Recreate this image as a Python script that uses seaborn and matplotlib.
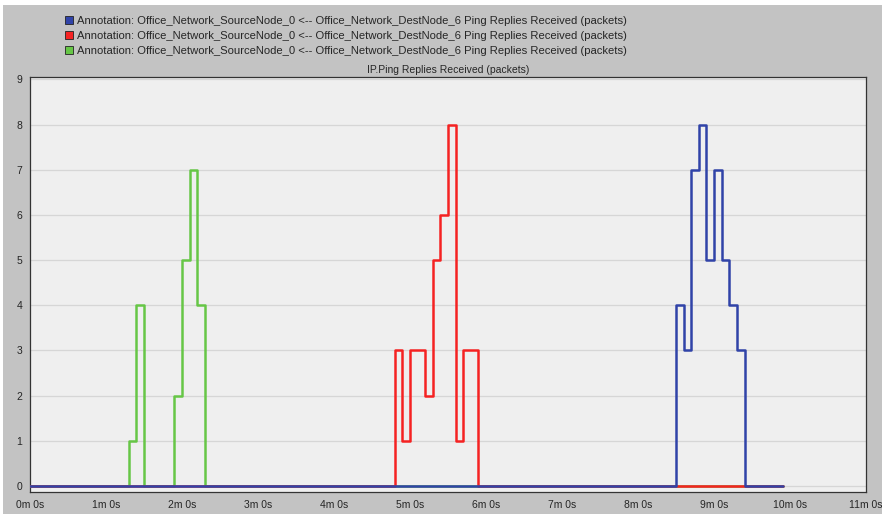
import matplotlib
matplotlib.use("Agg")
import matplotlib.pyplot as plt
from matplotlib.lines import Line2D
from matplotlib.patches import Rectangle
from matplotlib.ticker import FuncFormatter, MultipleLocator
import pandas as pd
import seaborn as sns

# step series, time in seconds -> packets received
green_t = [0, 78, 84, 90, 114, 120, 126, 132, 138, 594]
green_v = [0, 1, 4, 0, 2, 5, 7, 4, 0, 0]
red_t = [0, 288, 294, 300, 312, 318, 324, 330, 336, 342, 354, 594]
red_v = [0, 3, 1, 3, 2, 5, 6, 8, 1, 3, 0, 0]
blue_t = [0, 510, 516, 522, 528, 534, 540, 546, 552, 558, 564, 594]
blue_v = [0, 4, 3, 7, 8, 5, 7, 5, 4, 3, 0, 0]

label = "Annotation: Office_Network_SourceNode_0 <-- Office_Network_DestNode_6 Ping Replies Received (packets)"
series_names = ["blue", "red", "green"]
colors = {"blue": "#3043a8", "red": "#f52222", "green": "#66c646"}

sns.set_style("white")
plt.rcParams["font.family"] = ["Liberation Sans", "DejaVu Sans"]

df = pd.concat([
    pd.DataFrame({"t": green_t, "v": green_v, "s": "green"}),
    pd.DataFrame({"t": red_t, "v": red_v, "s": "red"}),
    pd.DataFrame({"t": blue_t, "v": blue_v, "s": "blue"}),
])

fig = plt.figure(figsize=(8.82, 5.14), dpi=100, facecolor="#c3c3c3")
ax = fig.add_axes([0.034, 0.043, 0.948, 0.807])
ax.set_facecolor("#efefef")

# white strip along the top and left edge of the window
fig.patches.append(Rectangle((0, 0.99), 1, 0.01, transform=fig.transFigure,
                             facecolor="white", edgecolor="none", zorder=0))
fig.patches.append(Rectangle((0, 0), 0.003, 1, transform=fig.transFigure,
                             facecolor="white", edgecolor="none", zorder=0))

for i, name in enumerate(["green", "red", "blue"]):
    sub = df[df["s"] == name]
    sns.lineplot(data=sub, x="t", y="v", ax=ax, color=colors[name], lw=1.8,
                 drawstyle="steps-post", estimator=None, legend=False, zorder=3 + i)

ax.set_xlim(0, 660)
ax.set_ylim(-0.13, 9.05)
ax.xaxis.set_major_locator(MultipleLocator(60))
ax.xaxis.set_major_formatter(FuncFormatter(lambda x, p: f"{int(x // 60)}m {int(x % 60)}s"))
ax.yaxis.set_major_locator(MultipleLocator(1))
ax.grid(axis="y", color="#d6d6d6", lw=0.9)
ax.set_xlabel("")
ax.set_ylabel("")
for sp in ax.spines.values():
    sp.set_color("#333333")
    sp.set_linewidth(0.9)
ax.tick_params(axis="both", direction="out", length=3.5, width=0.8, color="#333333",
               labelsize=7.5, pad=2)
ax.set_title("IP.Ping Replies Received (packets)", fontsize=7.5, pad=3)

handles = [Line2D([], [], ls="none", marker="s", markersize=6, markerfacecolor=colors[n],
                  markeredgecolor="#222222", markeredgewidth=0.6) for n in series_names]
fig.legend(handles, [label] * 3, loc="upper left", bbox_to_anchor=(0.064, 0.986),
           frameon=False, fontsize=8.1, handlelength=0.6, handletextpad=0.4,
           labelspacing=0.42, borderpad=0.3)

fig.savefig("out.png", dpi=100, facecolor=fig.get_facecolor())
